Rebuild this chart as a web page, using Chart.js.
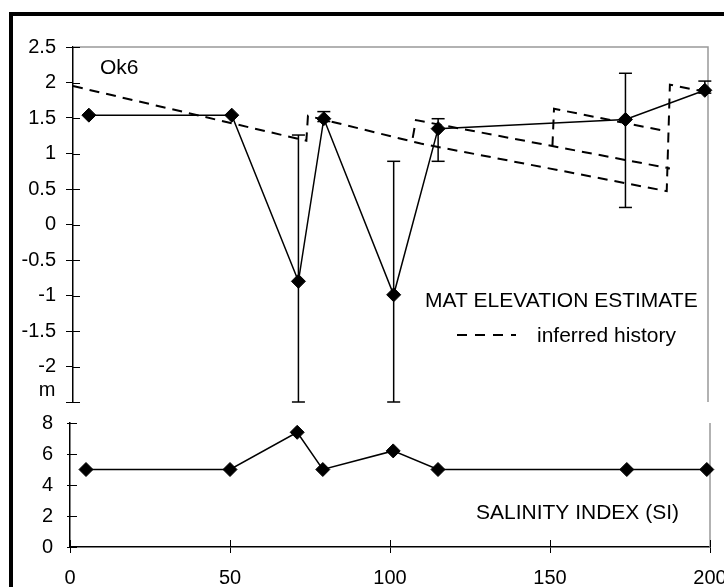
<!DOCTYPE html>
<html><head><meta charset="utf-8">
<script src="https://cdn.jsdelivr.net/npm/chart.js@4.4.1/dist/chart.umd.min.js"></script>
<style>
html,body{margin:0;padding:0;background:#fff;overflow:hidden;width:724px;height:587px;}
#frame{position:absolute;left:9px;top:12px;width:800px;height:700px;border:4px solid #000;box-sizing:border-box;}
#c1{position:absolute;left:0;top:0;}
#c2{position:absolute;left:0;top:400px;}
</style></head><body>
<div id="frame"></div>
<canvas id="c1" width="724" height="420"></canvas>
<canvas id="c2" width="724" height="187"></canvas>
<script>
// ---- data ----
const distance  = [5, 50, 71, 79, 101, 115, 174, 199];
const elevation = [1.54, 1.54, -0.80, 1.49, -0.99, 1.35, 1.48, 1.89];
const errLow    = [null, null, -2.5, 1.45, -2.5, 0.89, 0.24, 1.85];
const errHigh   = [null, null, 1.26, 1.59, 0.89, 1.49, 2.13, 2.02];
const salinity  = [5, 5, 7.4, 5, 6.2, 5, 5, 5];
// inferred history dashed paths; null separates segments
const historyX = [0, 73.5, 74, 109.5, 187, 188, 200, null, 107, 108, 188, null, 151, 151.5, 185];
const historyY = [1.95, 1.18, 1.53, 1.14, 0.47, 1.97, 1.86, null, 1.22, 1.47, 0.79, null, 1.10, 1.63, 1.33];
const elevTickLabels = ['', '-2', '-1.5', '-1', '-0.5', '0', '0.5', '1', '1.5', '2', '2.5'];
const salTickLabels  = ['0', '2', '4', '6', '8'];
const xTickLabels    = ['0', '50', '100', '150', '200'];

Chart.defaults.font.family = '"Liberation Sans", Arial, sans-serif';
Chart.defaults.color = '#000';

const elevPts = distance.map((d, i) => ({x: d, y: elevation[i]}));
const errPts = [];
distance.forEach((d, i) => {
  if (errLow[i] !== null) errPts.push({x: d, y: errLow[i]}, {x: d, y: errHigh[i]}, {x: d, y: null});
});
const histPts = [];
let lastX = 0;
historyX.forEach((hx, i) => {
  if (hx === null) histPts.push({x: lastX, y: null});
  else { histPts.push({x: hx, y: historyY[i]}); lastX = hx; }
});
const salPts = distance.map((d, i) => ({x: d, y: salinity[i]}));

const FONT = '"Liberation Sans", Arial, sans-serif';

const topDecor = {
  id: 'topDecor',
  beforeDatasetsDraw(chart) {
    const {ctx, chartArea: a, scales: {y}} = chart;
    ctx.save();
    ctx.strokeStyle = '#999'; ctx.lineWidth = 1.5;
    ctx.beginPath(); ctx.moveTo(a.left, a.top); ctx.lineTo(a.right, a.top); ctx.lineTo(a.right, a.bottom); ctx.stroke();
    ctx.strokeStyle = '#000'; ctx.lineWidth = 1;
    y.ticks.forEach(t => {
      const py = Math.round(y.getPixelForValue(t.value)) + 0.5;
      ctx.beginPath(); ctx.moveTo(a.left, py); ctx.lineTo(a.left + 7, py); ctx.stroke();
    });
    ctx.restore();
  },
  afterDraw(chart) {
    const {ctx, scales: {y}} = chart;
    ctx.save();
    ctx.fillStyle = '#000'; ctx.strokeStyle = '#000';
    ctx.font = '21px ' + FONT; ctx.textBaseline = 'middle'; ctx.textAlign = 'left';
    ctx.fillText('Ok6', 100, 68);
    ctx.fillText('MAT ELEVATION ESTIMATE', 425, 301);
    ctx.fillText('inferred history', 537, 336);
    ctx.setLineDash([10, 8]); ctx.lineWidth = 2;
    ctx.beginPath(); ctx.moveTo(457, 335); ctx.lineTo(516, 335); ctx.stroke();
    ctx.setLineDash([]);
    ctx.textAlign = 'center'; ctx.font = '20px ' + FONT;
    ctx.fillText('m', 47, y.getPixelForValue(-2.5) - 12);
    ctx.restore();
  }
};

new Chart(document.getElementById('c1'), {
  type: 'scatter',
  data: {
    datasets: [
      {data: elevPts, showLine: true, borderColor: '#000', borderWidth: 1.5,
       pointStyle: 'rectRot', pointRadius: 7, pointBackgroundColor: '#000', pointBorderColor: '#000',
       pointBorderWidth: 1, clip: false},
      {data: errPts, showLine: true, spanGaps: false, borderColor: '#000', borderWidth: 1.5,
       pointStyle: 'line', pointRadius: 6.5, pointBorderColor: '#000', pointBorderWidth: 1.5, clip: false},
      {data: histPts, showLine: true, spanGaps: false, borderColor: '#000', borderWidth: 2,
       borderDash: [10, 7], pointRadius: 0, clip: false}
    ]
  },
  options: {
    responsive: false, animation: false, devicePixelRatio: 1,
    layout: {padding: {left: 0, top: 47, right: 16, bottom: 18}},
    plugins: {legend: {display: false}, tooltip: {enabled: false}},
    scales: {
      x: {type: 'linear', min: 0, max: 200, display: false},
      y: {type: 'linear', min: -2.5, max: 2.5,
          ticks: {stepSize: 0.5, padding: 10, font: {size: 20}, color: '#000',
                  callback: (v, i) => elevTickLabels[i]},
          grid: {drawOnChartArea: false, color: '#000', tickLength: 7, lineWidth: 1},
          border: {color: '#000', width: 1.5},
          afterFit: s => { s.width = 73; s.paddingTop = 0; s.paddingBottom = 0; }}
    }
  },
  plugins: [topDecor]
});

const botDecor = {
  id: 'botDecor',
  beforeDatasetsDraw(chart) {
    const {ctx, chartArea: a, scales: {x, y}} = chart;
    ctx.save();
    ctx.strokeStyle = '#999'; ctx.lineWidth = 1.5;
    ctx.beginPath(); ctx.moveTo(a.right, a.top); ctx.lineTo(a.right, a.bottom); ctx.stroke();
    ctx.strokeStyle = '#000'; ctx.lineWidth = 1;
    y.ticks.forEach(t => {
      const py = Math.round(y.getPixelForValue(t.value)) + 0.5;
      ctx.beginPath(); ctx.moveTo(a.left, py); ctx.lineTo(a.left + 7, py); ctx.stroke();
    });
    x.ticks.forEach(t => {
      const px = Math.round(x.getPixelForValue(t.value)) + 0.5;
      ctx.beginPath(); ctx.moveTo(px, a.bottom); ctx.lineTo(px, a.bottom - 7); ctx.stroke();
    });
    ctx.restore();
  },
  afterDraw(chart) {
    const {ctx} = chart;
    ctx.save();
    ctx.fillStyle = '#000';
    ctx.font = '21px ' + FONT; ctx.textBaseline = 'middle'; ctx.textAlign = 'left';
    ctx.fillText('SALINITY INDEX (SI)', 476, 113.5);
    ctx.restore();
  }
};

new Chart(document.getElementById('c2'), {
  type: 'scatter',
  data: {
    datasets: [
      {data: salPts, showLine: true, borderColor: '#000', borderWidth: 1.5,
       pointStyle: 'rectRot', pointRadius: 7, pointBackgroundColor: '#000', pointBorderColor: '#000',
       pointBorderWidth: 1, clip: false}
    ]
  },
  options: {
    responsive: false, animation: false, devicePixelRatio: 1,
    layout: {padding: {left: 0, top: 23, right: 14, bottom: 0}},
    plugins: {legend: {display: false}, tooltip: {enabled: false}},
    scales: {
      x: {type: 'linear', min: 0, max: 200,
          ticks: {stepSize: 50, padding: 13, font: {size: 20}, color: '#000', maxRotation: 0,
                  callback: (v, i) => xTickLabels[i]},
          grid: {drawOnChartArea: false, color: '#000', tickLength: 6, lineWidth: 1},
          border: {color: '#000', width: 1.5},
          afterFit: s => { s.height = 40; s.paddingLeft = 0; s.paddingRight = 0; }},
      y: {type: 'linear', min: 0, max: 8,
          ticks: {stepSize: 2, padding: 14, font: {size: 20}, color: '#000',
                  callback: (v, i) => salTickLabels[i]},
          grid: {drawOnChartArea: false, color: '#000', tickLength: 3, lineWidth: 1},
          border: {color: '#000', width: 1.5},
          afterFit: s => { s.width = 70; s.paddingTop = 0; s.paddingBottom = 0; }}
    }
  },
  plugins: [botDecor]
});
</script>
</body></html>
